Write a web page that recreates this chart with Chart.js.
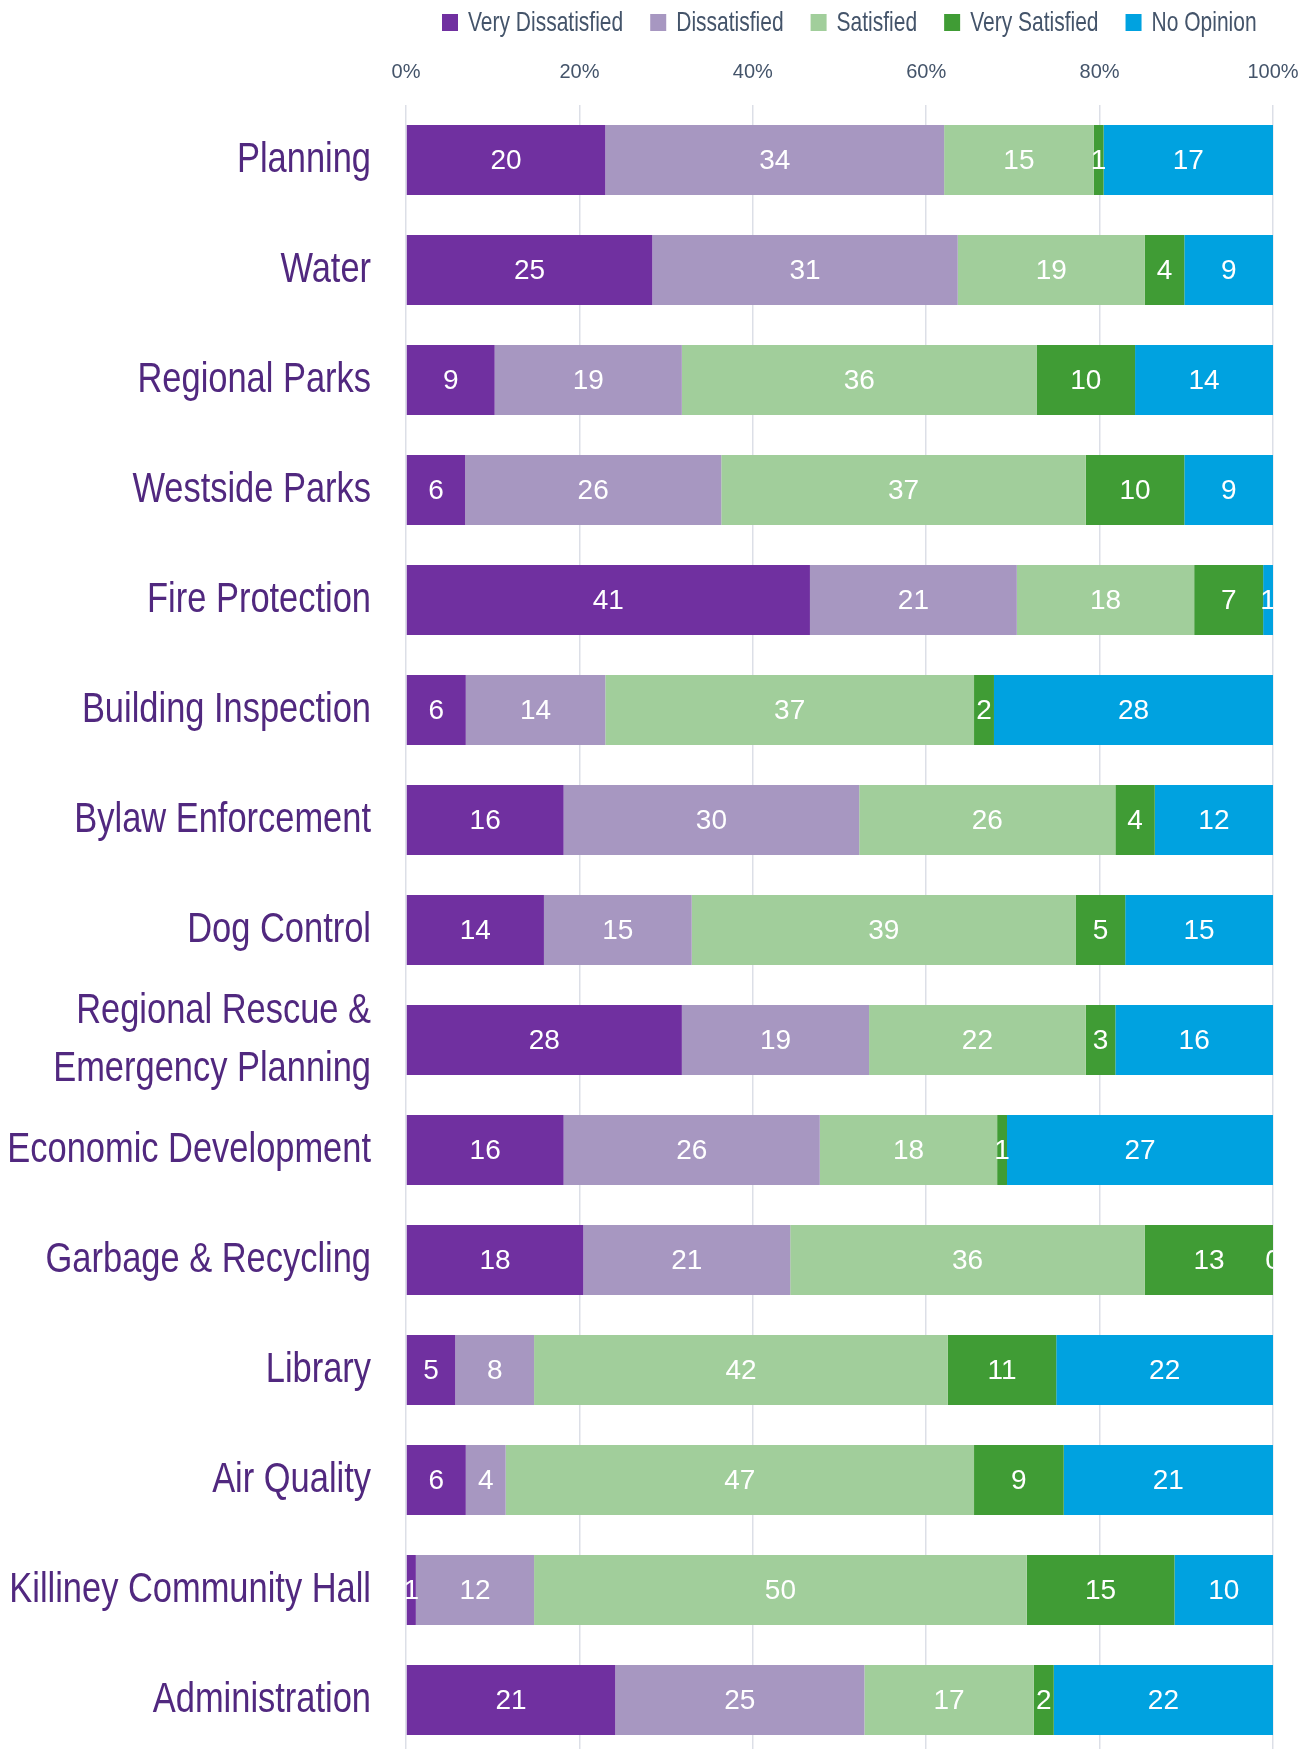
<!DOCTYPE html>
<html>
<head>
<meta charset="utf-8">
<script src="https://cdn.jsdelivr.net/npm/chart.js@4/dist/chart.umd.min.js"></script>
<style>
html,body{margin:0;padding:0;background:#fff;overflow:hidden;}
#wrap{width:1311px;height:1749px;position:relative;overflow:hidden;}
</style>
</head>
<body>
<div id="wrap"><canvas id="c" width="1311" height="1755"></canvas></div>
<script>
const categories = [
  "Planning", "Water", "Regional Parks", "Westside Parks", "Fire Protection",
  "Building Inspection", "Bylaw Enforcement", "Dog Control",
  ["Regional Rescue &", "Emergency Planning"], "Economic Development",
  "Garbage & Recycling", "Library", "Air Quality", "Killiney Community Hall",
  "Administration"
];
const seriesNames = ["Very Dissatisfied", "Dissatisfied", "Satisfied", "Very Satisfied", "No Opinion"];
const veryDissatisfied = [20, 25, 9, 6, 41, 6, 16, 14, 28, 16, 18, 5, 6, 1, 21];
const dissatisfied     = [34, 31, 19, 26, 21, 14, 30, 15, 19, 26, 21, 8, 4, 12, 25];
const satisfied        = [15, 19, 36, 37, 18, 37, 26, 39, 22, 18, 36, 42, 47, 50, 17];
const verySatisfied    = [1, 4, 10, 10, 7, 2, 4, 5, 3, 1, 13, 11, 9, 15, 2];
const noOpinion        = [17, 9, 14, 9, 1, 28, 12, 15, 16, 27, 0, 22, 21, 10, 22];
const tickValues = [0, 20, 40, 60, 80, 100];

const seriesCounts = [veryDissatisfied, dissatisfied, satisfied, verySatisfied, noOpinion];
const colors = ["#7030A0", "#A797C1", "#A1CE9B", "#409C35", "#00A2E0"];
const totals = categories.map((_, i) => seriesCounts.reduce((s, arr) => s + arr[i], 0));

const datasets = seriesCounts.map((arr, k) => ({
  label: seriesNames[k],
  data: arr.map((v, i) => v / totals[i] * 100),
  counts: arr,
  backgroundColor: colors[k],
  borderWidth: 0,
  barPercentage: 0.636,
  categoryPercentage: 1.0
}));

const FONT = '"Liberation Sans", Arial, sans-serif';

// Condensed text helper (the original uses a narrow typeface)
function drawNarrow(ctx, text, x, y, scaleX, align) {
  ctx.save();
  ctx.translate(x, y);
  ctx.scale(scaleX, 1);
  ctx.textAlign = align;
  ctx.fillText(text, 0, 0);
  ctx.restore();
}

const labelPlugin = {
  id: 'segLabels',
  afterDatasetsDraw(chart) {
    const ctx = chart.ctx;
    const area = chart.chartArea;
    ctx.save();
    ctx.beginPath();
    ctx.rect(area.left, area.top, area.right - area.left, area.bottom - area.top);
    ctx.clip();
    ctx.fillStyle = '#ffffff';
    ctx.font = '28px ' + FONT;
    ctx.textAlign = 'center';
    ctx.textBaseline = 'middle';
    chart.data.datasets.forEach((ds, k) => {
      const meta = chart.getDatasetMeta(k);
      meta.data.forEach((bar, i) => {
        const cx = (bar.x + bar.base) / 2;
        ctx.fillText(String(ds.counts[i]), cx, bar.y + 1);
      });
    });
    ctx.restore();
  }
};

const categoryLabelPlugin = {
  id: 'catLabels',
  afterDraw(chart) {
    const ctx = chart.ctx;
    const yScale = chart.scales.y;
    const xRight = yScale.right - 35;
    ctx.save();
    ctx.fillStyle = '#51287F';
    ctx.font = '42px ' + FONT;
    ctx.textBaseline = 'middle';
    categories.forEach((lab, i) => {
      const y = yScale.getPixelForTick(i);
      const lines = Array.isArray(lab) ? lab : [lab];
      const lh = 58;
      lines.forEach((line, j) => {
        const ly = y + (j - (lines.length - 1) / 2) * lh;
        drawNarrow(ctx, line, xRight, ly, 0.82, 'right');
      });
    });
    ctx.restore();
  }
};

const legendPlugin = {
  id: 'customLegend',
  afterDraw(chart) {
    const ctx = chart.ctx;
    const scaleX = 0.75;
    let x = 442;
    const yc = 22;
    ctx.save();
    ctx.font = '28px ' + FONT;
    ctx.textBaseline = 'middle';
    chart.data.datasets.forEach((ds) => {
      ctx.fillStyle = ds.backgroundColor;
      ctx.fillRect(x, yc - 8, 16, 17);
      x += 16 + 10;
      ctx.fillStyle = '#44546A';
      drawNarrow(ctx, ds.label, x, yc + 1, scaleX, 'left');
      x += ctx.measureText(ds.label).width * scaleX + 27;
    });
    ctx.restore();
  }
};

new Chart(document.getElementById('c'), {
  type: 'bar',
  data: { labels: categories, datasets },
  plugins: [labelPlugin, categoryLabelPlugin, legendPlugin],
  options: {
    indexAxis: 'y',
    responsive: false,
    animation: false,
    layout: { padding: { left: 0, right: 38, top: 0, bottom: 0 } },
    plugins: {
      tooltip: { enabled: false },
      legend: { display: false }
    },
    scales: {
      x: {
        position: 'top',
        stacked: true,
        min: 0,
        max: 100,
        z: 1,
        afterBuildTicks(scale) { scale.ticks = tickValues.map(v => ({ value: v })); },
        afterFit(scale) { scale.height = 105; scale.paddingLeft = 0; scale.paddingRight = 0; },
        ticks: {
          color: '#44546A',
          padding: 21,
          maxRotation: 0,
          font: { family: FONT, size: 20 },
          callback: v => v + '%'
        },
        grid: { color: 'rgba(140,150,175,0.30)', lineWidth: 1.5, drawTicks: false },
        border: { display: false }
      },
      y: {
        stacked: true,
        afterFit(scale) { scale.width = 406; scale.paddingTop = 0; scale.paddingBottom = 0; },
        ticks: { display: false, autoSkip: false },
        grid: { display: false },
        border: { display: false }
      }
    }
  }
});
</script>
</body>
</html>
